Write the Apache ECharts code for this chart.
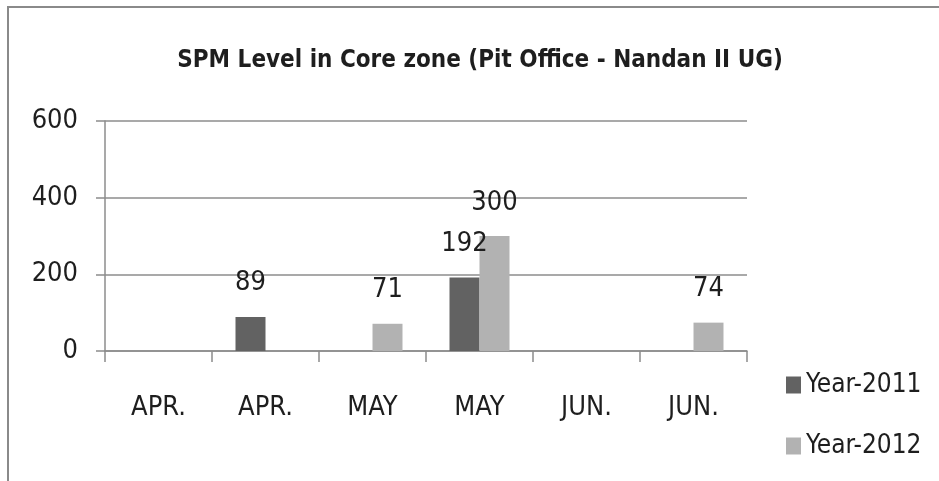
<!DOCTYPE html>
<html>
<head>
<meta charset="utf-8">
<script src="https://cdn.jsdelivr.net/npm/echarts@6/dist/echarts.min.js"></script>
<style>
  html, body { margin: 0; padding: 0; background: #fff; }
  #chart { width: 939px; height: 481px; }
  .frame {
    position: absolute; left: 7px; top: 6px; width: 940px; height: 480px;
    border-left: 2px solid #8a8a8a; border-top: 2px solid #8a8a8a;
  }
</style>
</head>
<body>
<div class="frame"></div>
<div id="chart" style="position:absolute;left:0;top:0"></div>
<script>
const months = ['APR.', 'APR.', 'MAY', 'MAY', 'JUN.', 'JUN.']
const year2011 = [null, 89, null, 192, null, null]
const year2012 = [null, null, 71, 300, null, 74]
const seriesNames = ['Year-2011', 'Year-2012']

const font = '"DejaVu Sans Condensed", sans-serif'
const textColor = '#1e1e1e'
const lineColor = '#8c8c8c'

const chart = echarts.init(document.getElementById('chart'))

const labelStyle = {
  show: true,
  position: 'top',
  distance: 20,
  fontFamily: font,
  fontSize: 27,
  color: textColor
}

chart.setOption({
  animation: false,
  title: {
    text: 'SPM Level in Core zone (Pit Office - Nandan II UG)',
    left: 475,
    textAlign: 'center',
    top: 44,
    textStyle: { fontFamily: font, fontSize: 24, fontWeight: 'bold', color: textColor }
  },
  legend: {
    orient: 'vertical',
    left: 781,
    top: 367,
    itemWidth: 15,
    itemHeight: 17,
    itemGap: 35,
    icon: 'rect',
    textStyle: { fontFamily: font, fontSize: 26, color: textColor },
    data: seriesNames
  },
  grid: { left: 105, right: 192, top: 121, bottom: 130 },
  xAxis: {
    type: 'category',
    data: months,
    axisLine: { lineStyle: { color: lineColor, width: 1.5 } },
    axisTick: { show: true, length: 11, lineStyle: { color: lineColor, width: 1.5 } },
    axisLabel: { fontFamily: font, fontSize: 27, color: textColor, margin: 43 }
  },
  yAxis: {
    type: 'value',
    min: 0,
    max: 600,
    interval: 200,
    axisLine: { show: true, lineStyle: { color: lineColor, width: 1.5 } },
    axisTick: { show: true, length: 9, lineStyle: { color: lineColor, width: 1.5 } },
    splitLine: { lineStyle: { color: lineColor, width: 1.5 } },
    axisLabel: { fontFamily: font, fontSize: 27, color: textColor, margin: 27 }
  },
  series: [
    {
      name: seriesNames[0],
      type: 'bar',
      data: year2011,
      barWidth: 30,
      barGap: '0%',
      itemStyle: { color: '#626262' },
      label: labelStyle
    },
    {
      name: seriesNames[1],
      type: 'bar',
      data: year2012,
      barWidth: 30,
      itemStyle: { color: '#b2b2b2' },
      label: labelStyle
    }
  ]
})
</script>
</body>
</html>
